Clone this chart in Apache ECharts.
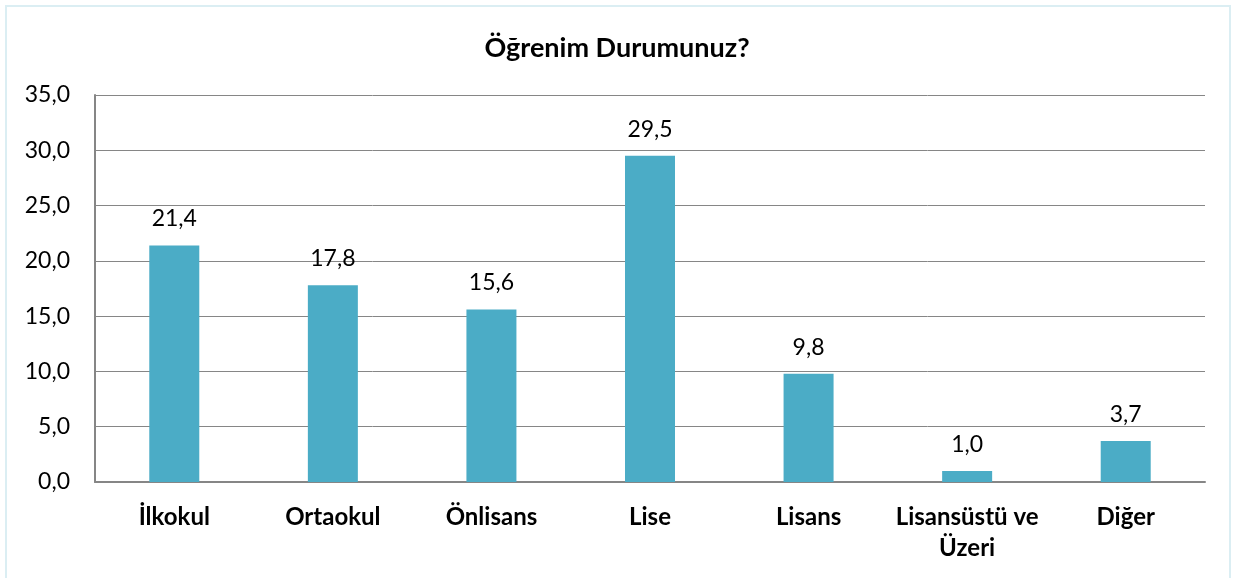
<!DOCTYPE html>
<html>
<head>
<meta charset="utf-8">
<script src="https://cdn.jsdelivr.net/npm/echarts@6/dist/echarts.min.js"></script>
<style>
html, body { margin: 0; padding: 0; background: #fff; }
#frame { position: absolute; left: 5px; top: 5px; width: 1226px; height: 578px; border: 2px solid #dbeef3; box-sizing: border-box; }
#chart-div { width: 1234px; height: 578px; }
</style>
</head>
<body>
<div id="frame"></div>
<div id="chart-div"></div>
<script>
const categories = ['İlkokul', 'Ortaokul', 'Önlisans', 'Lise', 'Lisans', 'Lisansüstü ve\nÜzeri', 'Diğer']
const values = [21.4, 17.8, 15.6, 29.5, 9.8, 1.0, 3.7]
const yTicks = [0, 5, 10, 15, 20, 25, 30, 35]

const fmt = v => v.toFixed(1).replace('.', ',')

let myChart = echarts.init(document.getElementById('chart-div'))

const option = {
    textStyle: { fontFamily: 'Lato' },
    title: {
        text: 'Öğrenim Durumunuz?',
        left: 'center',
        top: 30,
        textStyle: { fontFamily: 'Lato', fontSize: 27, fontWeight: 'bold', color: '#000' }
    },
    grid: { left: 95, right: 29, top: 95, bottom: 96, containLabel: false },
    xAxis: {
        type: 'category',
        data: categories,
        axisLine: { lineStyle: { color: '#868686', width: 2 } },
        axisTick: { show: false },
        axisLabel: {
            color: '#000', fontSize: 24, fontWeight: 'bold', fontFamily: 'Lato',
            margin: 20, lineHeight: 31, interval: 0
        }
    },
    yAxis: {
        type: 'value',
        min: yTicks[0],
        max: yTicks[yTicks.length - 1],
        interval: 5,
        axisLine: { show: true, lineStyle: { color: '#868686', width: 2 } },
        axisTick: { show: false },
        splitLine: { lineStyle: { color: '#868686', width: 1 } },
        axisLabel: { color: '#000', fontSize: 23, fontFamily: 'Lato', margin: 25, formatter: v => fmt(v) }
    },
    series: [{
        type: 'bar',
        data: values,
        barWidth: 50,
        itemStyle: { color: '#4bacc6' },
        label: {
            show: true,
            position: 'top',
            distance: 15,
            color: '#000',
            fontSize: 23,
            fontFamily: 'Lato',
            formatter: p => fmt(p.value)
        }
    }]
}

myChart.setOption(option)
</script>
</body>
</html>
